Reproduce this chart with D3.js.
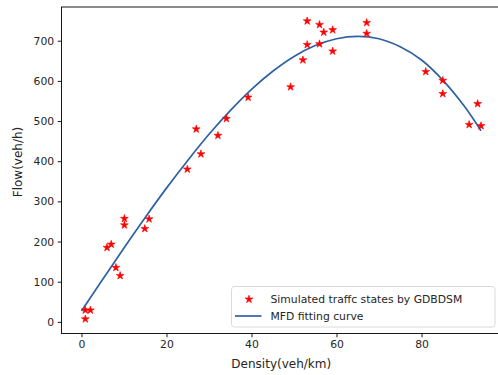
<!DOCTYPE html>
<html>
<head>
<meta charset="utf-8">
<script src="https://cdn.jsdelivr.net/npm/d3@7"></script>
<style>
  body { margin: 0; background: #fff; }
  svg { display: block; font-family: "DejaVu Sans", sans-serif; }
</style>
</head>
<body>
<div class="chart"></div>
<script>
// simulated traffic states (density, flow)
var density = [0.9, 2.1, 0.9, 6.0, 7.0, 8.1, 9.1, 10.1, 10.1, 14.9, 15.9, 24.9,
    27.0, 28.1, 32.1, 34.1, 39.2, 49.2, 52.1, 53.1, 53.1, 56.0, 56.0, 57.0,
    59.1, 59.1, 67.1, 67.1, 81.0, 85.0, 85.0, 93.2, 91.2, 94.0];
var flow = [29, 29, 7, 185, 193, 135, 115, 257, 241, 232, 256, 380,
    480, 418, 464, 506, 559, 585, 652, 749, 690, 740, 692, 721,
    727, 674, 745, 718, 623, 601, 568, 543, 491, 488];

// MFD fitting curve
var curveDensity = [0, 5, 10, 15, 20, 25, 30, 35, 40, 45, 50, 55, 60, 65, 70, 75, 80, 85, 90, 94];
var curveFlow = [27, 106, 184, 260, 333, 402, 467, 526, 579, 624, 661, 688, 705, 711, 705, 685, 652, 602, 538, 476];

var xTicks = [0, 20, 40, 60, 80];
var yTicks = [0, 100, 200, 300, 400, 500, 600, 700];

var svgWidth = 498, svgHeight = 375;
var margin = { top: 7, right: -3, bottom: 41.5, left: 61.5 };
var chartWidth = svgWidth - margin.left - margin.right;
var chartHeight = svgHeight - margin.top - margin.bottom;

var svg = d3.select(".chart").append("svg")
    .attr("width", svgWidth)
    .attr("height", svgHeight);

var chartGroup = svg.append("g")
    .attr("transform", `translate(${margin.left}, ${margin.top})`);

var xScale = d3.scaleLinear().domain([-4.7, 98.7]).range([0, chartWidth]);
var yScale = d3.scaleLinear().domain([-29, 784]).range([chartHeight, 0]);

// axes
var xAxis = d3.axisBottom(xScale).tickValues(xTicks).tickSize(3.8).tickPadding(3.5);
var yAxis = d3.axisLeft(yScale).tickValues(yTicks).tickSize(3.8).tickPadding(3.5);

var gx = chartGroup.append("g")
    .attr("transform", `translate(0, ${chartHeight})`)
    .call(xAxis);
var gy = chartGroup.append("g").call(yAxis);

[gx, gy].forEach(function(g) {
    g.select(".domain").remove();
    g.selectAll("line").attr("stroke", "#000").attr("stroke-width", 0.9);
    g.selectAll("text").attr("font-size", "10.8px").attr("fill", "#262626")
        .attr("font-family", "DejaVu Sans, sans-serif");
});

// frame
chartGroup.append("rect")
    .attr("width", chartWidth)
    .attr("height", chartHeight)
    .attr("fill", "none")
    .attr("stroke", "#000")
    .attr("stroke-width", 0.9);

// fitting curve
var line = d3.line()
    .x((d, i) => xScale(curveDensity[i]))
    .y(d => yScale(d))
    .curve(d3.curveCatmullRom);

chartGroup.append("path")
    .datum(curveFlow)
    .attr("d", line)
    .attr("fill", "none")
    .attr("stroke", "#2f62a2")
    .attr("stroke-width", 1.7);

// stars
var star = d3.symbol().type(d3.symbolStar).size(19);

chartGroup.selectAll(".pt")
    .data(flow)
    .enter()
    .append("path")
    .attr("class", "pt")
    .attr("d", star)
    .attr("transform", (d, i) => `translate(${xScale(density[i])}, ${yScale(d)})`)
    .attr("fill", "#ff0000")
    .attr("stroke", "#ff0000")
    .attr("stroke-width", 0.6);

// axis labels
svg.append("text")
    .attr("x", margin.left + xScale(47))
    .attr("y", 368)
    .attr("text-anchor", "middle")
    .attr("font-size", "12px")
    .attr("fill", "#262626")
    .text("Density(veh/km)");

svg.append("text")
    .attr("transform", "translate(21.5, 162) rotate(-90)")
    .attr("text-anchor", "middle")
    .attr("font-size", "12px")
    .attr("fill", "#262626")
    .text("Flow(veh/h)");

// legend
var legend = svg.append("g").attr("transform", "translate(231.5, 286.5)");
legend.append("rect")
    .attr("width", 263.5)
    .attr("height", 40.5)
    .attr("rx", 3)
    .attr("fill", "#fff")
    .attr("fill-opacity", 0.8)
    .attr("stroke", "#d6d6d6")
    .attr("stroke-width", 0.9);

legend.append("path")
    .attr("d", star)
    .attr("transform", "translate(17.5, 12.8)")
    .attr("fill", "#ff0000")
    .attr("stroke", "#ff0000")
    .attr("stroke-width", 0.6);

legend.append("line")
    .attr("x1", 3.5).attr("x2", 30)
    .attr("y1", 29.5).attr("y2", 29.5)
    .attr("stroke", "#2f62a2")
    .attr("stroke-width", 1.7);

legend.selectAll(".lbl")
    .data(["Simulated traffc states by GDBDSM", "MFD fitting curve"])
    .enter()
    .append("text")
    .attr("class", "lbl")
    .attr("x", 39)
    .attr("y", (d, i) => 16.8 + i * 16.6)
    .attr("font-size", "10.8px")
    .attr("fill", "#262626")
    .text(d => d);
</script>
</body>
</html>
